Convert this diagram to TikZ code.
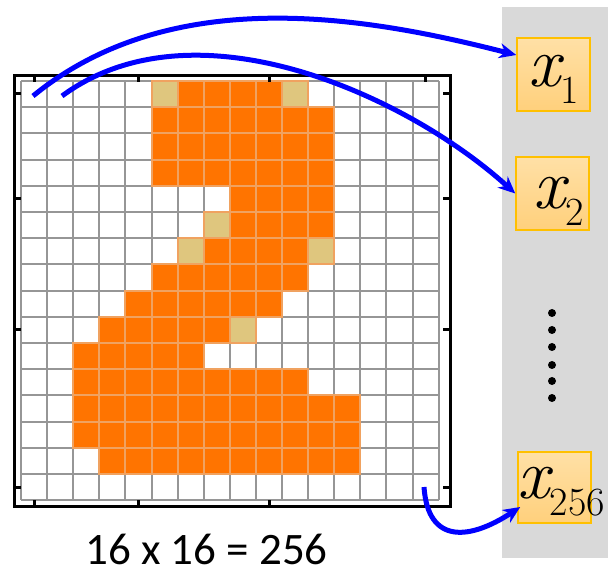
\documentclass[tikz,border=0pt]{standalone}
\usepackage{fontspec}
\newfontfamily\calibri{Carlito}
\usetikzlibrary{arrows.meta}

\definecolor{cellorange}{RGB}{255,116,0}
\definecolor{celltan}{RGB}{223,198,126}
\definecolor{gridgray}{RGB}{150,150,150}
\definecolor{gridpeach}{RGB}{240,162,96}
\definecolor{panelgray}{RGB}{217,217,217}
\definecolor{boxedge}{RGB}{255,192,0}
\definecolor{boxtop}{RGB}{255,224,166}
\definecolor{boxbottom}{RGB}{255,208,124}

\newcommand{\xsub}[1]{{\itshape x}\raisebox{-17pt}{\upshape\fontsize{40}{40}\selectfont #1}}

\begin{document}
\begin{tikzpicture}[
  x=1pt, y=-1pt,
  >={Stealth[length=17pt,width=15pt]},
  xbox/.style={draw=boxedge, line width=1.5pt, top color=boxtop, bottom color=boxbottom, minimum width=73pt, minimum height=73pt, inner sep=0pt},
  xlabel/.style={anchor=base, inner sep=0pt, font=\fontsize{71}{71}\selectfont},
  arr/.style={->, blue, line width=5pt},
  gridline/.style={gridgray, line width=2pt},
  orangecell/.style={fill=cellorange, draw=gridpeach, line width=2pt},
  tancell/.style={fill=celltan, draw=gridpeach, line width=2pt},
  frame/.style={line width=3pt}
]
\useasboundingbox (0,0) rectangle (608,569);
\fill[panelgray] (502,7) rectangle (608,558);

% 16 x 16 image
\begin{scope}[shift={(21,81)}, x=26.1pt, y=-26.2pt]
  \foreach \i in {0,...,16} {
    \draw[gridline] (\i,0) -- (\i,16);
    \draw[gridline] (0,\i) -- (16,\i);
  }
  \foreach \r/\a/\b in {0/6/9, 1/5/11, 2/5/11, 3/5/11, 4/8/11, 5/8/11, 6/7/10, 7/5/10,
                         8/4/9, 9/3/7, 10/2/6, 11/2/10, 12/2/12, 13/2/12, 14/3/12} {
    \foreach \c in {\a,...,\b}
      \draw[orangecell] (\c,\r) rectangle +(1,1);
  }
  \foreach \c/\r in {5/0, 10/0, 7/5, 6/6, 11/6, 8/9}
    \draw[tancell] (\c,\r) rectangle +(1,1);
\end{scope}
\draw[frame] (14,75.5) rectangle (450,506.5);
\foreach \t in {34,138.5,269,425.5} {
  \draw[frame] (\t,75.5) -- ++(0,7);
  \draw[frame] (\t,506.5) -- ++(0,-7);
}
\foreach \t in {94,199,330,487} {
  \draw[frame] (14,\t) -- ++(7,0);
  \draw[frame] (450,\t) -- ++(-7,0);
}
\node[font=\calibri\fontsize{45}{45}\selectfont, anchor=base, text depth=0pt] (caption) at (206.5,564) {16 x 16 = 256};

% pixel vector
\node[xbox] (x1box) at (553.5,74.5) {};
\node[xlabel] (x1) at (554,87) {\xsub{1}};
\node[xbox] (x2box) at (552.5,193.5) {};
\node[xlabel] (x2) at (558.5,209) {\xsub{2}};
\foreach \y in {313,330,347,365,381,398}
  \fill (552,\y) circle (4pt);
\node[xbox, minimum height=71pt] (x256box) at (554.5,487.5) {};
\node[xlabel] (x256) at (561.5,498) {\xsub{256}};

\coordinate (from1) at (33,96);
\coordinate (from2) at (62,96);
\coordinate (from256) at (424,487);
\draw[arr] (from1) .. controls (175,-20) and (375,19) .. ([yshift=19.5pt]x1box.west);
\draw[arr] (from2) .. controls (195,-2) and (408,96) .. (x2box.west);
\draw[arr] (from256) .. controls (428,545) and (470,540) .. ([xshift=3pt,yshift=-19.5pt]x256box.west);
\end{tikzpicture}
\end{document}
